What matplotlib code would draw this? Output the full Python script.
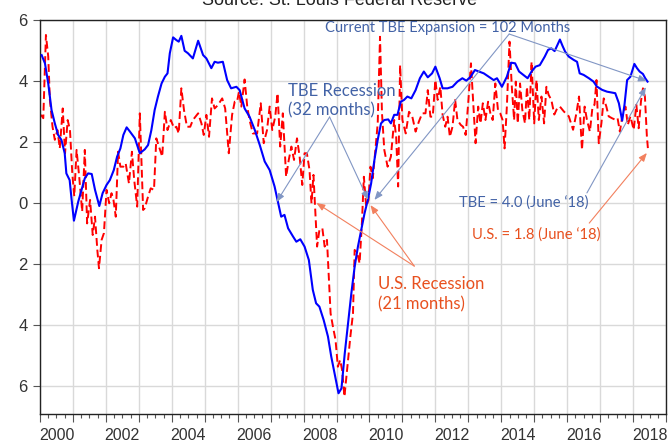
import matplotlib
matplotlib.use("Agg")
import matplotlib.pyplot as plt
from matplotlib.ticker import MultipleLocator, FixedLocator

# Texas business employment (TBE) vs U.S. growth
tbe_t = [2000.05, 2000.15, 2000.25, 2000.35, 2000.45, 2000.55, 2000.65, 2000.75, 2000.8, 2000.9,
         2000.96, 2001.03, 2001.16, 2001.26, 2001.36, 2001.46, 2001.57, 2001.67, 2001.8, 2001.9,
         2002.02, 2002.12, 2002.24, 2002.34, 2002.44, 2002.53, 2002.63, 2002.73, 2002.88, 2003.03,
         2003.18, 2003.28, 2003.38, 2003.48, 2003.58, 2003.69, 2003.79, 2003.87, 2003.94, 2004.04,
         2004.14, 2004.21, 2004.29, 2004.39, 2004.49, 2004.64, 2004.8, 2004.95, 2005.05, 2005.2,
         2005.3, 2005.4, 2005.55, 2005.68, 2005.8, 2005.96, 2006.06, 2006.21,
         2006.36, 2006.52, 2006.67, 2006.82, 2006.97, 2007.12, 2007.22, 2007.32, 2007.42, 2007.53,
         2007.68, 2007.78, 2007.9, 2008.03, 2008.16, 2008.28, 2008.38, 2008.48, 2008.61, 2008.74,
         2008.84, 2008.97, 2009.06, 2009.15,
         2009.25, 2009.35, 2009.45, 2009.55, 2009.65, 2009.75, 2009.85, 2009.95, 2010.05, 2010.15,
         2010.25, 2010.35, 2010.45, 2010.57, 2010.65, 2010.75, 2010.85, 2010.95, 2011.05, 2011.15,
         2011.27, 2011.4, 2011.53, 2011.65, 2011.77, 2011.9, 2012.0, 2012.13,
         2012.22, 2012.37, 2012.52, 2012.67, 2012.82, 2012.94, 2013.07, 2013.2, 2013.32, 2013.47,
         2013.62, 2013.77, 2013.87, 2014.02, 2014.17, 2014.3, 2014.42, 2014.54, 2014.67, 2014.8,
         2014.92, 2015.04, 2015.17, 2015.32, 2015.42, 2015.52, 2015.62, 2015.78,
         2015.86, 2015.94, 2016.05, 2016.2, 2016.3, 2016.38, 2016.5, 2016.66, 2016.8, 2016.9,
         2017.06, 2017.21, 2017.36, 2017.46, 2017.57, 2017.67, 2017.74, 2017.82, 2017.92, 2018.04,
         2018.12, 2018.2, 2018.3, 2018.37, 2018.44]
tbe_v = [4.85, 4.58, 3.92, 3.05, 2.61, 2.23, 2.07, 1.63, 0.97, 0.75,
         0.10, -0.58, 0.04, 0.43, 0.81, 0.97, 0.95, 0.43, -0.10, 0.32,
         0.59, 0.75, 1.08, 1.52, 1.79, 2.23, 2.48, 2.34, 2.12, 1.63,
         1.76, 1.90, 2.39, 3.05, 3.49, 3.92, 4.14, 4.25, 4.91, 5.43,
         5.34, 5.29, 5.48, 4.99, 4.91, 4.74, 5.32, 4.85, 4.74, 4.42,
         4.63, 4.60, 4.63, 4.03, 3.76, 3.81, 3.70, 3.10,
         2.83, 2.39, 1.90, 1.36, 1.08, 0.54, 0.04, -0.45, -0.39, -0.83,
         -1.10, -1.27, -1.19, -1.43, -1.87, -2.85, -3.29, -3.40, -3.84, -4.38,
         -5.04, -5.75, -6.24, -6.08,
         -4.93, -3.95, -2.96, -2.09, -1.43, -0.89, -0.34, 0.10, 0.64, 1.41,
         2.07, 2.61, 2.72, 2.74, 2.61, 2.89, 2.89, 3.32, 3.38, 3.49,
         3.43, 3.70, 4.09, 4.31, 4.12, 4.25, 4.47, 4.09,
         3.76, 3.76, 3.81, 3.98, 4.09, 4.01, 4.14, 4.36, 4.31, 4.25,
         4.14, 4.03, 4.09, 3.81, 4.14, 4.60, 4.58, 4.31, 4.20, 4.09,
         4.31, 4.47, 4.52, 4.80, 5.02, 5.07, 4.98, 5.36,
         5.15, 4.96, 4.80, 4.69, 4.63, 4.25, 4.20, 4.09, 3.98, 3.82,
         3.71, 3.65, 3.62, 3.60, 3.27, 2.70, 3.22, 4.03, 4.14, 4.56,
         4.42, 4.31, 4.23, 4.09, 3.98]

us_t = [2000.03, 2000.1, 2000.18, 2000.25, 2000.3, 2000.38, 2000.45, 2000.53, 2000.6, 2000.69,
        2000.76, 2000.84, 2000.91, 2000.98, 2001.04, 2001.11, 2001.19, 2001.28, 2001.36, 2001.43,
        2001.52, 2001.6, 2001.67, 2001.74, 2001.79, 2001.87, 2001.94, 2002.02, 2002.1, 2002.17,
        2002.23, 2002.3, 2002.37, 2002.44, 2002.53, 2002.6, 2002.7, 2002.79, 2002.86, 2002.95,
        2003.03, 2003.13,
        2003.18, 2003.28, 2003.36, 2003.46, 2003.53, 2003.61, 2003.71, 2003.79, 2003.87, 2003.97,
        2004.07, 2004.14, 2004.21, 2004.29, 2004.37, 2004.46, 2004.56, 2004.64, 2004.8, 2004.9,
        2004.97, 2005.05, 2005.13, 2005.22, 2005.3, 2005.4, 2005.53, 2005.62, 2005.73, 2005.83,
        2005.91, 2005.98, 2006.04, 2006.11, 2006.21, 2006.29,
        2006.36, 2006.46, 2006.59, 2006.7, 2006.79, 2006.89, 2006.97, 2007.05, 2007.14, 2007.21,
        2007.29, 2007.37, 2007.47, 2007.55, 2007.63, 2007.71, 2007.8, 2007.88, 2007.96, 2008.03,
        2008.1, 2008.18, 2008.24, 2008.3, 2008.36, 2008.41, 2008.48, 2008.57, 2008.64, 2008.71,
        2008.77, 2008.82, 2008.89, 2008.97, 2009.04, 2009.11, 2009.17, 2009.24, 2009.32, 2009.42,
        2009.5,
        2009.55, 2009.63, 2009.7, 2009.77, 2009.83, 2009.9, 2009.97, 2010.03, 2010.1, 2010.17,
        2010.25, 2010.32, 2010.38, 2010.45, 2010.55, 2010.65, 2010.75, 2010.81, 2010.87, 2010.93,
        2011.0, 2011.1, 2011.2, 2011.3, 2011.4, 2011.5, 2011.6, 2011.7, 2011.77, 2011.85,
        2011.92, 2012.0, 2012.07, 2012.15,
        2012.22, 2012.3, 2012.37, 2012.44, 2012.52, 2012.6, 2012.67, 2012.77, 2012.84, 2012.92,
        2013.0, 2013.08, 2013.15, 2013.22, 2013.3, 2013.37, 2013.44, 2013.52, 2013.6, 2013.67,
        2013.74, 2013.82, 2013.9, 2013.97, 2014.04, 2014.1, 2014.17, 2014.25, 2014.32, 2014.39,
        2014.44, 2014.5, 2014.57, 2014.64, 2014.72, 2014.78, 2014.85, 2014.92, 2015.0, 2015.07,
        2015.14, 2015.22, 2015.3, 2015.37, 2015.44, 2015.52, 2015.61,
        2015.7, 2015.78, 2015.9, 2016.05, 2016.18, 2016.28, 2016.36, 2016.45, 2016.53, 2016.6,
        2016.69, 2016.77, 2016.83, 2016.89, 2016.96, 2017.04, 2017.11, 2017.19, 2017.26, 2017.36,
        2017.46, 2017.53, 2017.6, 2017.68, 2017.77, 2017.84, 2017.92, 2018.02, 2018.1, 2018.17,
        2018.24, 2018.3, 2018.36, 2018.42, 2018.45]
us_v = [2.89, 2.78, 5.51, 4.80, 3.38, 2.50, 2.07, 2.39, 1.79, 3.10,
        1.63, 2.72, 2.39, 0.97, 0.22, 1.74, 0.86, -0.28, 1.74, -0.67,
        0.10, -1.05, -0.45, -1.54, -2.14, -1.21, -0.99, 0.43, -0.01, 0.32,
        0.10, -0.45, 1.68, 1.19, 1.19, 1.30, 0.64, 1.68, 0.75, -0.12,
        2.94, -0.23,
        -0.17, 0.21, 0.48, 0.43, 2.12, 1.85, 1.52, 2.99, 2.39, 2.72,
        2.45, 2.50, 2.28, 3.76, 3.05, 2.50, 2.50, 2.72, 2.94, 2.61,
        2.23, 2.89, 2.17, 3.43, 3.10, 3.21, 3.43, 3.10, 1.63, 2.89,
        3.32, 3.32, 3.65, 3.16, 4.05, 3.16,
        2.72, 2.28, 2.28, 3.27, 1.96, 2.39, 3.16, 2.39, 2.83, 3.60,
        1.85, 2.94, 0.86, 1.41, 1.85, 1.41, 2.12, 1.52, 0.59, 1.63,
        1.63, 1.08, -0.01, 0.92, -0.34, -1.43, -0.89, -0.83, -1.43, -1.21,
        -2.52, -3.62, -4.05, -4.49, -5.37, -5.15, -5.48, -6.35, -5.48, -4.38,
        -3.62,
        -1.54, -1.65, -1.98, -0.67, 0.86, -0.12, 0.10, 1.19, 0.81, 1.63,
        2.61, 5.45, 2.94, 1.74, 1.19, 1.52, 2.72, 2.17, 0.54, 4.52,
        2.72, 2.28, 2.99, 2.83, 2.34, 2.67, 2.94, 2.94, 3.70, 2.83,
        2.83, 4.03, 3.38, 3.81,
        2.89, 2.50, 2.83, 2.17, 2.50, 3.38, 2.72, 2.56, 2.50, 2.23,
        3.32, 4.58, 3.27, 1.96, 3.16, 2.61, 3.27, 2.72, 3.32, 2.94,
        2.72, 3.92, 3.05, 2.94, 2.72, 1.79, 3.16, 5.29, 3.81, 2.72,
        3.98, 2.61, 3.92, 3.05, 2.61, 3.81, 2.72, 4.63, 2.61, 4.03,
        2.72, 3.49, 2.61, 3.81, 3.54, 3.38, 2.90,
        3.11, 3.16, 3.00, 2.84, 2.40, 2.94, 3.49, 1.74, 3.16, 2.73,
        2.34, 3.16, 3.22, 4.03, 1.96, 2.62, 3.43, 3.16, 2.84, 2.78,
        2.73, 2.78, 2.34, 2.89, 3.16, 2.56, 2.84, 2.40, 3.22, 2.45,
        3.33, 3.76, 3.49, 2.18, 1.80]

y_ticks = [-6, -4, -2, 0, 2, 4, 6]
y_tick_labels = ["6", "4", "2", "0", "2", "4", "6"]
year_labels = ["2000", "2002", "2004", "2006", "2008", "2010", "2012", "2014", "2016", "2018"]

blue_txt = "#4262a6"
blue_ln = "#8196c4"
red_txt = "#e8501e"
red_ln = "#f2805e"
note_font = ["Lato", "DejaVu Sans"]

fig = plt.figure(figsize=(6.72, 4.46), dpi=100)
ax = fig.add_axes([40 / 672, 1 - 414 / 446, 626 / 672, 394 / 446])

ax.plot(tbe_t, tbe_v, color="#0000ff", lw=1.5, zorder=3)
ax.plot(us_t, us_v, color="#ff0000", lw=1.4, ls=(0, (4, 2)), zorder=2)

ax.set_xlim(2000, 2019)
ax.set_ylim(-6.92, 6)

ax.xaxis.set_major_locator(MultipleLocator(1))
ax.xaxis.set_minor_locator(MultipleLocator(0.25))
ax.set_xticklabels([])
ax.set_yticks(y_ticks)
ax.set_yticklabels(y_tick_labels)
ax.tick_params(axis="y", direction="out", length=5, width=0.8, colors="#555555",
               labelcolor="#333333", labelsize=12, pad=4)
ax.tick_params(axis="x", which="major", direction="out", length=6, width=0.8, colors="#555555")
ax.tick_params(axis="x", which="minor", direction="out", length=3, width=0.8, colors="#555555")
for lab in ax.get_yticklabels():
    lab.set_family("Liberation Sans")

# year labels sit in the middle of each year, EViews style
sec = ax.secondary_xaxis("bottom")
sec.xaxis.set_major_locator(FixedLocator([int(y) + 0.5 for y in year_labels]))
sec.set_xticklabels(year_labels, family="Liberation Sans", fontsize=11.5, color="#333333")
sec.tick_params(length=0, pad=10)
sec.spines["bottom"].set_visible(False)

ax.grid(True, which="major", color="#d9d9d9", lw=1)
ax.set_axisbelow(True)
for s in ax.spines.values():
    s.set_color("#222222")
    s.set_linewidth(1)

# the source line is cut by the top edge in the original too
fig.text(0.505, 1 - 5 / 446, "Source: St. Louis Federal Reserve", ha="center", va="baseline",
         family="Liberation Sans", fontsize=13, color="#222222")

def arrow(start, end, color):
    ax.annotate("", xy=end, xytext=start,
                arrowprops=dict(arrowstyle="-|>,head_length=0.5,head_width=0.2",
                                color=color, lw=0.8, shrinkA=0, shrinkB=0), zorder=5)

# current expansion
ax.text(2012.36, 5.74, "Current TBE Expansion = 102 Months", ha="center", va="center",
        color=blue_txt, family=note_font, fontsize=10.5)
arrow((2014.24, 5.54), (2010.15, 0.1), blue_ln)
arrow((2014.24, 5.54), (2018.42, 4.0), blue_ln)

# TBE recession
ax.text(2007.52, 3.35, "TBE Recession\n(32 months)", ha="left", va="center",
        color=blue_txt, family=note_font, fontsize=12, linespacing=1.3)
arrow((2008.79, 2.82), (2007.18, 0.03), blue_ln)
arrow((2008.79, 2.82), (2009.96, 0.1), blue_ln)

# U.S. recession
ax.text(2010.27, -3.0, "U.S. Recession\n(21 months)", ha="left", va="center",
        color=red_txt, family=note_font, fontsize=12, linespacing=1.3)
arrow((2011.36, -2.07), (2008.39, 0.0), red_ln)
arrow((2011.36, -2.07), (2010.03, -0.07), red_ln)

# latest values
ax.text(2012.73, 0.03, "TBE = 4.0 (June \u201818)", ha="left", va="center",
        color=blue_txt, family=note_font, fontsize=10.6)
arrow((2016.6, 0.33), (2018.39, 3.8), blue_ln)
ax.text(2013.12, -1.02, "U.S. = 1.8 (June \u201818)", ha="left", va="center",
        color=red_txt, family=note_font, fontsize=10.6)
arrow((2016.67, -0.66), (2018.42, 1.64), red_ln)

fig.savefig("out.png", dpi=100)
